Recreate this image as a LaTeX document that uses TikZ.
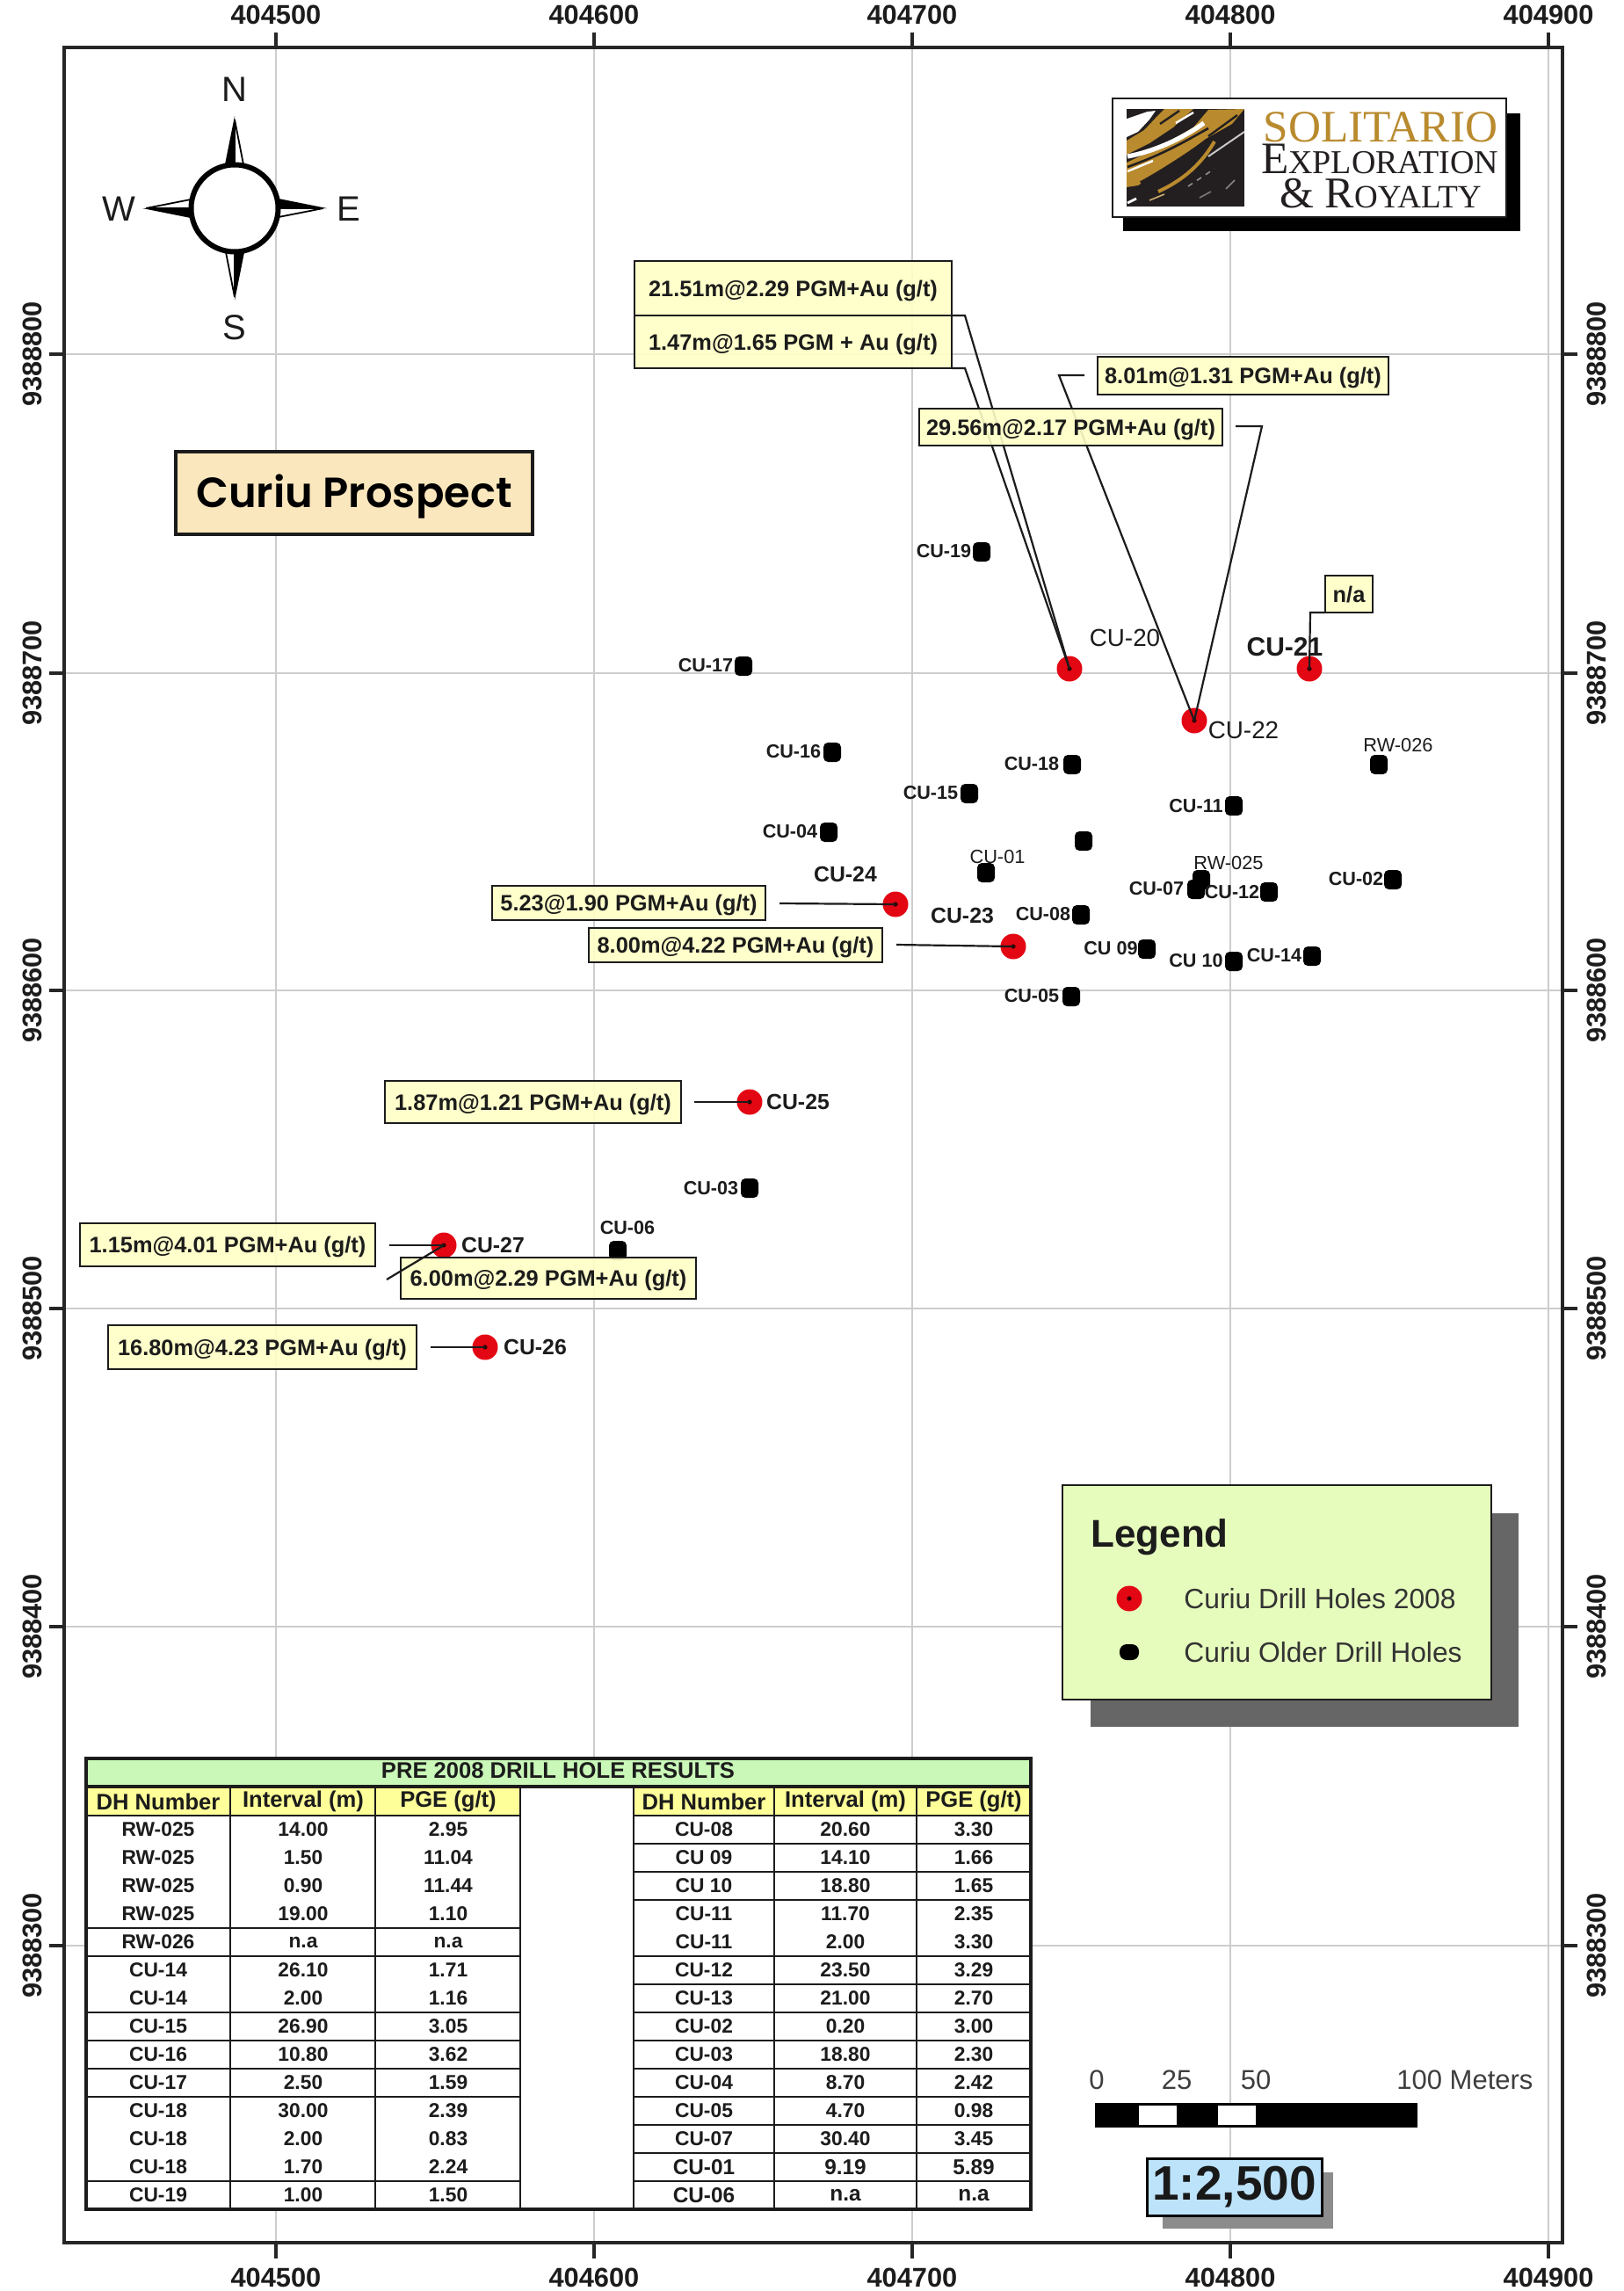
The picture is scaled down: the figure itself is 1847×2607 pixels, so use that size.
\documentclass[tikz,border=0pt]{standalone}
\usepackage{fontspec}
\setmainfont{Liberation Sans}
\newfontfamily\seriffont{Liberation Serif}
\newfontfamily\popfont{Poppins SemiBold}
\definecolor{gridc}{HTML}{CDCDCD}
\definecolor{calloutfill}{HTML}{FFFFC6}
\definecolor{ink}{HTML}{1C1C1C}
\definecolor{goldc}{HTML}{B98A2E}
\definecolor{logodark}{HTML}{231F20}
\definecolor{reddot}{HTML}{E30613}
\definecolor{legendfill}{HTML}{E6FCBC}
\definecolor{prospectfill}{HTML}{FBE7BD}
\definecolor{scalefill}{HTML}{BDE3FA}
\definecolor{titlefill}{HTML}{C9F8B8}
\definecolor{headfill}{HTML}{FFFF99}
\tikzset{
  gridline/.style={draw=gridc,line width=1pt},
  framebox/.style={draw=black!85,line width=1.6pt},
  tickline/.style={draw=black!85,line width=1.6pt},
  axislabel/.style={font=\fontsize{15.4}{17}\selectfont\bfseries,text=ink,inner sep=0pt},
  redhole/.style={circle,fill=reddot,inner sep=0pt,minimum size=14.5pt,
    path picture={\fill[black!80!red] (path picture bounding box.center) circle (1.3pt);}},
  oldhole/.style={rectangle,fill=black,rounded corners=2.6pt,inner sep=0pt,minimum width=10pt,minimum height=11pt},
  holelabel/.style={font=\fontsize{10.8}{12}\selectfont\bfseries,text=ink,inner sep=0pt},
  thinlabel/.style={font=\fontsize{10.9}{12}\selectfont,text=ink,inner sep=0pt},
  newlabel/.style={font=\fontsize{12.4}{14}\selectfont\bfseries,text=ink,inner sep=0pt},
  biglabel/.style={font=\fontsize{13.9}{15}\selectfont,text=ink,inner sep=0pt},
  callout/.style={draw=ink,line width=1.4pt,fill=calloutfill,fill opacity=.9,text opacity=1,inner sep=0pt,
    text height=9.1pt,text depth=0pt,font=\fontsize{12.7}{14}\selectfont\bfseries,text=ink},
  leader/.style={draw=ink,line width=1.1pt},
  tablecell/.style={font=\fontsize{11.4}{13}\selectfont\bfseries,text=ink,inner sep=0pt},
  tablehead/.style={font=\fontsize{12.8}{14}\selectfont\bfseries,text=ink,inner sep=0pt},
  tablestrong/.style={font=\fontsize{12.2}{14}\selectfont\bfseries,text=ink,inner sep=0pt},
  tline/.style={draw=ink,line width=1.1pt},
  touter/.style={draw=ink,line width=1.6pt},
  compasslabel/.style={font=\fontsize{20}{22}\selectfont,text=ink,inner sep=0pt},
  legendtext/.style={font=\fontsize{15.9}{18}\selectfont,text=ink!90,anchor=west,inner sep=0pt},
  scaletext/.style={font=\fontsize{15.5}{18}\selectfont,text=ink!85,inner sep=0pt},
}
\newcommand{\callouttext}[6]{%
  \node[callout,minimum width={(#4-#2)*0.5pt},minimum height={(#5-#3)*0.5pt}] (#1) at ({(#2+#4)/2},{(#3+#5)/2}) {#6};}
\begin{document}
\begin{tikzpicture}[x=0.5pt,y=-0.5pt]
\useasboundingbox (0,0) rectangle (1847,2607);
\fill[white] (0,0) rectangle (1847,2607);

% grid
\foreach \gx in {314,676,1038,1400,1762} \draw[gridline] (\gx,54) -- (\gx,2552);
\foreach \gy in {403,766,1127,1489,1851,2214} \draw[gridline] (73,\gy) -- (1778,\gy);

% frame, ticks, axis labels
\draw[framebox] (73,54) rectangle (1778,2552);
\foreach \gx/\txt in {314/404500,676/404600,1038/404700,1400/404800,1762/404900}{
  \draw[tickline] (\gx,37) -- (\gx,54);
  \draw[tickline] (\gx,2552) -- (\gx,2570);
  \node[axislabel] (top\txt) at (\gx,17) {\txt};
  \node[axislabel] (bot\txt) at (\gx,2592) {\txt};
}
\foreach \gy/\txt in {403/9388800,766/9388700,1127/9388600,1489/9388500,1851/9388400,2214/9388300}{
  \draw[tickline] (56,\gy) -- (73,\gy);
  \draw[tickline] (1778,\gy) -- (1795,\gy);
  \node[axislabel,rotate=90] (lft\txt) at (37,\gy) {\txt};
  \node[axislabel,rotate=90] (rgt\txt) at (1817,\gy) {\txt};
}

% compass
\foreach \a in {0,90,180,270}{
  \begin{scope}[rotate around={\a:(267,237)}]
    \fill[black] (267,132) -- (256,187) -- (267,187) -- cycle;
    \draw[black,line width=.9pt,line join=miter,fill=white] (267,136) -- (277,187) -- (267,187) -- cycle;
  \end{scope}
}
\node[circle,draw=black,line width=3pt,fill=white,minimum size=49.5pt,inner sep=0pt] (compass) at (267,237) {};
\node[compasslabel] (cN) at (267,102) {N};
\node[compasslabel] (cS) at (267,373) {S};
\node[compasslabel] (cW) at (135,238) {W};
\node[compasslabel] (cE) at (397,238) {E};

% prospect title
\node[draw=ink,line width=1.6pt,fill=prospectfill,inner sep=0pt,minimum width=203pt,minimum height=47pt,
  text height=16pt,text depth=0pt,font=\popfont\fontsize{24}{26}\selectfont,text=black] (prospect) at (403,561) {Curiu Prospect};

% logo
\fill[black] (1278,129) rectangle (1730,263);
\node[draw=ink,line width=1.3pt,fill=white,inner sep=0pt,minimum width=224pt,minimum height=67.5pt] (logo) at (1490,179.5) {};
\begin{scope}
  \clip (1282,124) rectangle (1416,235);
  \fill[logodark] (1282,124) rectangle (1416,235);
  \fill[white] (1282,135) -- (1298,128) -- (1315,126) -- (1308,136) -- (1295,150) -- (1282,156) -- cycle;
  \draw[logodark,line width=2pt] (1282,133) -- (1305,125);
  \fill[goldc] (1282,160) -- (1302,148) -- (1318,131) -- (1325,124) -- (1358,124) -- (1335,145) -- (1308,163) -- (1282,176) -- cycle;
  \fill[goldc] (1282,185) -- (1318,168) -- (1358,145) -- (1375,125) -- (1416,124) -- (1402,141) -- (1372,158) -- (1342,181) -- (1295,211) -- (1282,213) -- cycle;
  \draw[logodark,line width=1.2pt] (1320,141) -- (1342,126);
  \draw[white,line width=1.2pt] (1338,140) -- (1358,128);
  \draw[white,line width=2.6pt] (1283,178) .. controls (1310,173) and (1342,160) .. (1370,140);
  \draw[logodark,line width=1.3pt] (1283,190) .. controls (1325,175) and (1350,160) .. (1375,146);
  \draw[white,line width=1.2pt] (1283,195) -- (1312,183);
  \draw[logodark,line width=1.2pt] (1375,155) -- (1408,131);
  \draw[logodark,line width=1.8pt] (1298,208) .. controls (1320,196) and (1345,180) .. (1372,161);
  \draw[goldc,line width=2pt] (1318,218) .. controls (1355,201) and (1372,178) .. (1382,161);
  \draw[white!75!logodark,line width=1pt] (1375,178) -- (1416,150);
  \draw[white!50!logodark,line width=.8pt,dashed] (1352,212) -- (1382,192);
  \draw[white!40!logodark,line width=.8pt] (1365,225) -- (1378,218);
  \draw[white!45!logodark,line width=.8pt] (1395,215) -- (1405,205);
  \draw[goldc!70!white,line width=.8pt] (1308,228) -- (1325,221);
  \draw[white,line width=1.4pt] (1283,231) -- (1293,226);
\end{scope}
\node[inner sep=0pt,text=goldc,font=\seriffont\fontsize{25.6}{27}\selectfont] (logo1) at (1571,145) {SOLITARIO};
\node[inner sep=0pt,text=logodark,font=\seriffont\fontsize{25.6}{27}\selectfont] (logo2) at (1570,181)
  {E{\fontsize{19}{20}\selectfont XPLORATION}};
\node[inner sep=0pt,text=logodark,font=\seriffont\fontsize{25}{27}\selectfont] (logo3) at (1571,220)
  {\& R{\fontsize{18.5}{20}\selectfont OYALTY}};

% older drill holes and their labels
\foreach \n/\x/\y in {cu19/1117/628,cu17/846/758,cu16/947/856,cu04/943/947,cu18/1220/870,cu15/1103/903,
  cu11/1404/917,rw26/1569/870,cuxx/1233/957,cu01/1122/993,rw25/1367/1001,cu07/1361/1012,cu12/1444/1015,
  cu02/1585/1001,cu08/1230/1041,cu09/1305/1080,cu10/1404/1094,cu14/1493/1088,cu05/1219/1134,cu03/853/1352,cu06/703/1423}
  \node[oldhole] (\n) at (\x,\y) {};
\foreach \n/\x/\y/\t in {lcu19/1074/627/CU-19,lcu17/803/757/CU-17,lcu16/903/855/CU-16,lcu04/899/946/CU-04,
  lcu18/1174/869/CU-18,lcu15/1059/902/CU-15,lcu11/1361/917/CU-11,lcu07/1316/1011/CU-07,lcu12/1402/1015/CU-12,
  lcu02/1543/1000/CU-02,lcu08/1187/1040/CU-08,lcu09/1264/1079/CU 09,lcu10/1361/1093/CU 10,lcu14/1450/1087/CU-14,
  lcu05/1174/1133/CU-05,lcu03/809/1352/CU-03,lcu06/714/1397/CU-06}
  \node[holelabel] (\n) at (\x,\y) {\t};
\foreach \n/\x/\y/\t in {lrw26/1591/848/RW-026,lcu01/1135/975/CU-01,lrw25/1398/982/RW-025}
  \node[thinlabel] (\n) at (\x,\y) {\t};

% 2008 drill holes
\foreach \n/\x/\y in {cu20/1217/761,cu21/1490/761,cu22/1359/820,cu24/1019/1029,cu23/1153/1077,cu25/853/1254,cu27/505/1417,cu26/552/1533}
  \node[redhole] (\n) at (\x,\y) {};
\node[biglabel] (lcu20) at (1280,726) {CU-20};
\node[biglabel,font=\fontsize{15}{17}\selectfont\bfseries] (lcu21) at (1462,736) {CU-21};
\node[biglabel] (lcu22) at (1415,831) {CU-22};
\foreach \n/\x/\y/\t in {lcu24/962/995/CU-24,lcu23/1095/1042/CU-23,lcu25/908/1254/CU-25,lcu27/561/1417/CU-27,lcu26/609/1533/CU-26}
  \node[newlabel] (\n) at (\x,\y) {\t};

% leader free ends
\coordinate (f21) at (1098,359);
\coordinate (f147) at (1098,419);
\coordinate (f801a) at (1234,427);
\coordinate (f801b) at (1205,427);
\coordinate (f2956a) at (1406,485);
\coordinate (f2956b) at (1436,485);
\coordinate (fna) at (1491,697);
\coordinate (f523) at (887,1028);
\coordinate (f800) at (1020,1075);
\coordinate (f187) at (790,1254);
\coordinate (f115) at (443,1417);
\coordinate (f168) at (490,1533);
\coordinate (f600) at (440,1456);

% callouts below the leaders' free ends: first the leaders
\draw[leader] (1083,359) -- (f21) -- (cu20.center);
\draw[leader] (1083,419) -- (f147) -- (cu20.center);
\draw[leader] (f801a) -- (f801b) -- (cu22.center);
\draw[leader] (f2956a) -- (f2956b) -- (cu22.center);
\draw[leader] (1508,697) -- (fna) -- (cu21.center);
\draw[leader] (f523) -- (cu24.center);
\draw[leader] (f800) -- (cu23.center);
\draw[leader] (f187) -- (cu25.center);
\draw[leader] (f115) -- (cu27.center);
\draw[leader] (f168) -- (cu26.center);

\callouttext{b2151}{722}{297}{1083}{359}{21.51m@2.29 PGM+Au (g/t)}
\callouttext{b147}{722}{359}{1083}{419}{1.47m@1.65 PGM + Au (g/t)}
\callouttext{b801}{1249}{406}{1580}{449}{8.01m@1.31 PGM+Au (g/t)}
\callouttext{b2956}{1046}{465}{1391}{507}{29.56m@2.17 PGM+Au (g/t)}
\callouttext{bna}{1508}{655}{1562}{697}{n/a}
\callouttext{b523}{560}{1008}{871}{1047}{5.23@1.90 PGM+Au (g/t)}
\callouttext{b800}{670}{1056}{1004}{1095}{8.00m@4.22 PGM+Au (g/t)}
\callouttext{b187}{438}{1230}{775}{1278}{1.87m@1.21 PGM+Au (g/t)}
\callouttext{b115}{91}{1392}{427}{1441}{1.15m@4.01 PGM+Au (g/t)}
\callouttext{b600}{456}{1431}{792}{1478}{6.00m@2.29 PGM+Au (g/t)}
\callouttext{b168}{123}{1508}{474}{1558}{16.80m@4.23 PGM+Au (g/t)}
\draw[leader] (f600) -- (cu27.center);

% legend
\fill[black!60] (1241,1722) rectangle (1728,1965);
\node[draw=ink,line width=1.4pt,fill=legendfill,inner sep=0pt,minimum width=244pt,minimum height=122pt] (legend) at (1453,1812) {};
\node[inner sep=0pt,anchor=west,text=ink,font=\fontsize{22}{24}\selectfont\bfseries] (legendtitle) at (1241,1749) {Legend};
\node[redhole] (legred) at (1285,1819) {};
\node[rectangle,fill=black,rounded corners=4pt,inner sep=0pt,minimum width=11pt,minimum height=9pt] (legold) at (1285,1880) {};
\node[legendtext] (legt1) at (1347,1819) {Curiu Drill Holes 2008};
\node[legendtext] (legt2) at (1347,1880) {Curiu Older Drill Holes};

% scale bar
\fill[black] (1246,2393) rectangle (1613,2421);
\fill[white] (1296,2396) rectangle (1339,2418);
\fill[white] (1386,2396) rectangle (1429,2418);
\node[scaletext] (s0) at (1248,2367) {0};
\node[scaletext] (s25) at (1339,2367) {25};
\node[scaletext] (s50) at (1429,2367) {50};
\node[scaletext,anchor=west] (s100) at (1589,2367) {100 Meters};

% ratio
\fill[black!45] (1323,2472) rectangle (1517,2536);
\node[draw=black,line width=1.5pt,fill=scalefill,inner sep=0pt,minimum width=99.5pt,minimum height=32.5pt,
  text=black!90,font=\fontsize{27.5}{30}\selectfont\bfseries] (ratio) at (1404.5,2488.5) {1:2,500};

% table
\fill[white] (98,2001) rectangle (1173,2514);
\fill[titlefill] (98,2001) rectangle (1173,2033);
\fill[headfill] (98,2033) rectangle (592,2066);
\fill[headfill] (721,2033) rectangle (1173,2066);
\node[inner sep=0pt,text=ink,font=\fontsize{12.8}{14}\selectfont\bfseries] (ttitle) at (635,2015) {PRE 2008 DRILL HOLE RESULTS};
\foreach \n/\x/\t in {h1/180/DH Number,h2/345/Interval (m),h3/510/{PGE (g/t)},h4/801/DH Number,h5/962/Interval (m),h6/1108/{PGE (g/t)}}
  \node[tablehead] (\n) at (\x,2050) {\t};
\foreach \i/\a/\b/\c in {1/RW-025/14.00/2.95,2/RW-025/1.50/11.04,3/RW-025/0.90/11.44,4/RW-025/19.00/1.10,5/RW-026/n.a/n.a,
  6/CU-14/26.10/1.71,7/CU-14/2.00/1.16,8/CU-15/26.90/3.05,9/CU-16/10.80/3.62,10/CU-17/2.50/1.59,11/CU-18/30.00/2.39,
  12/CU-18/2.00/0.83,13/CU-18/1.70/2.24,14/CU-19/1.00/1.50}{
  \node[tablecell] (la\i) at (180,{2066+32*(\i-.5)}) {\a};
  \node[tablecell] (lb\i) at (345,{2066+32*(\i-.5)}) {\b};
  \node[tablecell] (lc\i) at (510,{2066+32*(\i-.5)}) {\c};
}
\foreach \i/\a/\b/\c in {1/CU-08/20.60/3.30,2/CU 09/14.10/1.66,3/CU 10/18.80/1.65,4/CU-11/11.70/2.35,5/CU-11/2.00/3.30,
  6/CU-12/23.50/3.29,7/CU-13/21.00/2.70,8/CU-02/0.20/3.00,9/CU-03/18.80/2.30,10/CU-04/8.70/2.42,11/CU-05/4.70/0.98,
  12/CU-07/30.40/3.45}{
  \node[tablecell] (ra\i) at (801,{2066+32*(\i-.5)}) {\a};
  \node[tablecell] (rb\i) at (962,{2066+32*(\i-.5)}) {\b};
  \node[tablecell] (rc\i) at (1108,{2066+32*(\i-.5)}) {\c};
}
\foreach \i/\a/\b/\c in {13/CU-01/9.19/5.89,14/CU-06/n.a/n.a}{
  \node[tablestrong] (ra\i) at (801,{2066+32*(\i-.5)}) {\a};
  \node[tablestrong] (rb\i) at (962,{2066+32*(\i-.5)}) {\b};
  \node[tablestrong] (rc\i) at (1108,{2066+32*(\i-.5)}) {\c};
}
\foreach \i in {4,5,7,8,9,10,13} \draw[tline] (98,{2066+32*\i}) -- (592,{2066+32*\i});
\foreach \i in {1,2,3,5,6,7,8,9,10,11,12,13} \draw[tline] (721,{2066+32*\i}) -- (1173,{2066+32*\i});
\draw[tline] (98,2066) -- (592,2066);
\draw[tline] (721,2066) -- (1173,2066);
\foreach \x in {262,427,592,721,881,1043} \draw[tline,line width=.9pt] (\x,2033) -- (\x,2514);
\draw[touter] (98,2033) -- (1173,2033);
\draw[touter] (98,2001) rectangle (1173,2514);
\end{tikzpicture}
\end{document}
